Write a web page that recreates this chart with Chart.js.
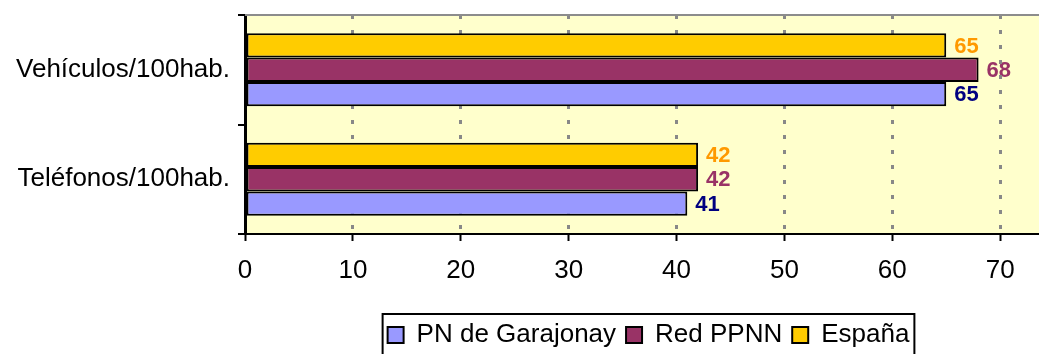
<!DOCTYPE html>
<html>
<head>
<meta charset="utf-8">
<script src="https://cdn.jsdelivr.net/npm/chart.js@4"></script>
<style>
  html, body { margin: 0; padding: 0; background: #fff; }
  canvas { display: block; }
</style>
</head>
<body>
<canvas id="chart" width="1039" height="354"></canvas>
<script>
// datos
const categories = ['Vehículos/100hab.', 'Teléfonos/100hab.'];
const espana = [65, 42];
const redPPNN = [68, 42];
const garajonay = [65, 41];
const xTicks = [0, 10, 20, 30, 40, 50, 60, 70];

const FONT = '"Liberation Sans", Arial, sans-serif';

// fondo del área + etiquetas de valor (debajo de la rejilla, como en Excel)
const plotDecor = {
  id: 'plotDecor',
  afterLayout(chart) {
    // la leyenda original está centrada un poco a la derecha
    const lg = chart.legend;
    const dx = 6.5, dy = 312 - lg.top;
    lg.left += dx; lg.right += dx;
    lg.top += dy; lg.bottom += dy;
  },
  beforeDraw(chart) {
    const { ctx, chartArea: a } = chart;
    ctx.save();
    ctx.fillStyle = '#FFFFCC';
    ctx.fillRect(a.left, a.top, a.right - a.left, a.bottom - a.top);

    ctx.font = 'bold 22px ' + FONT;
    ctx.textAlign = 'left';
    ctx.textBaseline = 'middle';
    chart.data.datasets.forEach((ds, i) => {
      const meta = chart.getDatasetMeta(i);
      meta.data.forEach((bar, j) => {
        ctx.fillStyle = ds.labelColor;
        ctx.fillText(String(ds.data[j]), bar.x + 8, bar.y + 1);
      });
    });
    ctx.restore();
  },
  beforeDatasetsDraw(chart) {
    // borde superior gris del área de trazado
    const { ctx, chartArea: a } = chart;
    ctx.save();
    ctx.strokeStyle = '#8c8c8c';
    ctx.lineWidth = 2;
    ctx.beginPath();
    ctx.moveTo(a.left, a.top);
    ctx.lineTo(a.right, a.top);
    ctx.stroke();
    ctx.restore();
  },
  afterDraw(chart) {
    // marco de la leyenda
    const hb = chart.legend.legendHitBoxes;
    if (!hb || !hb.length) return;
    const left = Math.min(...hb.map(h => h.left)) - 5;
    const right = Math.max(...hb.map(h => h.left + h.width)) + 5;
    const top = hb[0].top - 8;
    const { ctx } = chart;
    ctx.save();
    ctx.strokeStyle = '#000';
    ctx.lineWidth = 2;
    ctx.strokeRect(left, top, right - left, 60);
    ctx.restore();
  }
};

new Chart(document.getElementById('chart').getContext('2d'), {
  type: 'bar',
  data: {
    labels: categories,
    datasets: [
      { label: 'España', data: espana, backgroundColor: '#FFCC00', labelColor: '#FF9900' },
      { label: 'Red PPNN', data: redPPNN, backgroundColor: '#993366', labelColor: '#993366' },
      { label: 'PN de Garajonay', data: garajonay, backgroundColor: '#9999FF', labelColor: '#000080' }
    ].map(d => Object.assign(d, {
      borderColor: '#000',
      borderWidth: 2,
      borderSkipped: false,
      categoryPercentage: 0.665,
      barPercentage: 1.0
    }))
  },
  options: {
    indexAxis: 'y',
    responsive: false,
    animation: false,
    devicePixelRatio: 1,
    layout: { padding: { top: 15, right: 0, bottom: 0, left: 0 } },
    scales: {
      x: {
        type: 'linear',
        min: 0,
        max: 73.6,
        afterBuildTicks: (scale) => {
          scale.ticks = xTicks.map(v => ({ value: v }));
        },
        afterFit: (scale) => {
          scale.height = 74;
          scale.paddingLeft = 0; scale.paddingRight = 0;
        },
        ticks: {
          color: '#000',
          padding: 14,
          font: { family: FONT, size: 26 }
        },
        grid: {
          color: (c) => (c.tick && c.tick.value === 0 ? 'rgba(0,0,0,0)' : '#888'),
          lineWidth: 3,
          tickColor: '#000',
          tickWidth: 2,
          tickLength: 7,
          tickBorderDash: []
        },
        border: { color: '#000', width: 2, dash: [4, 11] }
      },
      y: {
        afterFit: (scale) => {
          scale.width = 245;
          scale.paddingTop = 0; scale.paddingBottom = 0;
        },
        ticks: {
          color: '#000',
          padding: 8,
          font: { family: FONT, size: 26 }
        },
        grid: {
          offset: true,
          drawOnChartArea: false,
          color: '#000',
          lineWidth: 2,
          tickLength: 7
        },
        border: { color: '#000', width: 3 }
      }
    },
    plugins: {
      legend: {
        position: 'bottom',
        fullSize: false,
        reverse: true,
        labels: {
          color: '#000',
          boxWidth: 16,
          boxHeight: 16,
          padding: 10,
          font: { family: FONT, size: 26 }
        }
      },
      tooltip: { enabled: false }
    }
  },
  plugins: [plotDecor]
});
</script>
</body>
</html>
